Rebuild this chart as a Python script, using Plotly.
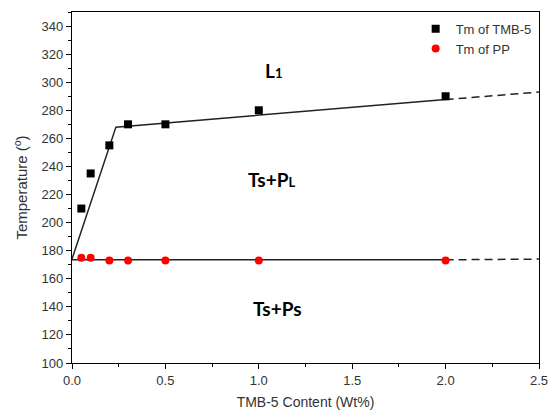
import plotly.graph_objects as go

# Data
tmb_x = [0.05, 0.1, 0.2, 0.3, 0.5, 1.0, 2.0]
tmb_y = [210, 235, 255, 270, 270, 280, 290]
pp_x = [0.05, 0.1, 0.2, 0.3, 0.5, 1.0, 2.0]
pp_y = [175, 175, 173, 173, 173, 173, 173]

liq_x = [0.0, 0.235, 2.0]
liq_y = [174, 268, 287.6]
liq_dash_x = [2.0, 2.5]
liq_dash_y = [287.6, 293]
sol_x = [0.0, 2.0]
sol_y = [173.5, 173.5]
sol_dash_x = [2.0, 2.5]
sol_dash_y = [173.5, 174]

labels = ["L<span style='font-size:13px'>1</span>", "Ts+P<span style='font-size:13px'>L</span>", "Ts+Ps"]
label_x = [1.08, 1.07, 1.1]
label_y = [308, 231, 139]

fig = go.Figure()
fig.add_trace(go.Scatter(x=liq_x, y=liq_y, mode="lines", line=dict(color="#222", width=1.5), showlegend=False))
fig.add_trace(go.Scatter(x=liq_dash_x, y=liq_dash_y, mode="lines", line=dict(color="#222", width=1.5, dash="8px,5px"), showlegend=False))
fig.add_trace(go.Scatter(x=sol_x, y=sol_y, mode="lines", line=dict(color="#222", width=1.5), showlegend=False))
fig.add_trace(go.Scatter(x=sol_dash_x, y=sol_dash_y, mode="lines", line=dict(color="#222", width=1.5, dash="8px,5px"), showlegend=False))
fig.add_trace(go.Scatter(x=tmb_x, y=tmb_y, mode="markers", name="Tm of TMB-5",
                         marker=dict(symbol="square", color="black", size=8)))
fig.add_trace(go.Scatter(x=pp_x, y=pp_y, mode="markers", name="Tm of PP",
                         marker=dict(symbol="circle", color="red", size=8)))

for t, x, y in zip(labels, label_x, label_y):
    fig.add_annotation(x=x, y=y, text="<b>" + t + "</b>", showarrow=False,
                       font=dict(family="Lato", size=19, color="black"))

fig.update_layout(
    width=557, height=417,
    margin=dict(l=72, r=9, t=12, b=52),
    paper_bgcolor="white", plot_bgcolor="white",
    font=dict(family="Liberation Sans, Arial", size=13, color="#333"),
    legend=dict(x=0.995, y=0.995, xanchor="right", yanchor="top", bgcolor="rgba(0,0,0,0)",
                font=dict(size=13, color="#333"), itemwidth=30),
    xaxis=dict(range=[0, 2.5], tickvals=[0, 0.5, 1.0, 1.5, 2.0, 2.5],
               ticktext=["0.0", "0.5", "1.0", "1.5", "2.0", "2.5"],
               showline=True, linecolor="black", linewidth=1.2, mirror=True,
               ticks="outside", ticklen=5, tickcolor="black", showgrid=False, zeroline=False,
               minor=dict(dtick=0.25, ticks="outside", ticklen=3, tickcolor="black"),
               title=dict(text="TMB-5 Content (Wt%)", font=dict(size=14, color="#333"), standoff=10)),
    yaxis=dict(range=[100, 350], tickvals=list(range(100, 341, 20)),
               showline=True, linecolor="black", linewidth=1.2, mirror=True,
               ticks="outside", ticklen=5, tickcolor="black", showgrid=False, zeroline=False,
               minor=dict(dtick=10, ticks="outside", ticklen=3, tickcolor="black"),
               title=dict(text="Temperature (<sup>o</sup>)", font=dict(size=15, color="#333"), standoff=10)),
)

fig.write_html("out.html")
